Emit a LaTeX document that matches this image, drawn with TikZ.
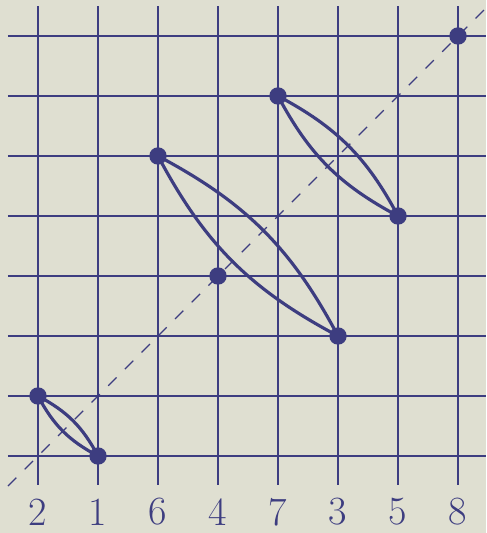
\documentclass[tikz,border=0pt]{standalone}
\usepackage{tikz}
\usetikzlibrary{positioning}
\definecolor{papel}{RGB}{223,223,209}
\definecolor{tinta}{RGB}{61,61,128}

\begin{document}
\begin{tikzpicture}[
        rejilla/.style={tinta, line width=0.95pt},
        punto/.style={circle, fill=tinta, inner sep=0pt, minimum size=0.29cm},
        lente/.style={tinta, line width=1.5pt},
        diagonal/.style={tinta, line width=0.6pt, dash pattern=on 5.6pt off 5.6pt},
        etiqueta/.style={text=tinta, inner sep=0pt, font=\fontsize{19}{19}\selectfont}]
        \fill[papel] (0.3667,-0.2833) rectangle (8.4667,8.6);
        \useasboundingbox (0.3667,-0.2833) rectangle (8.4667,8.6);
        % rejilla
        \foreach \i in {1,...,8} {
            \draw[rejilla] (\i,0.52) -- (\i,8.5);
            \draw[rejilla] (0.5,\i) -- (8.4667,\i);
        }
        \draw[diagonal] (0.5,0.5) -- (8.47,8.47);
        % puntos de la permutacion
        \foreach \v [count=\i] in {2,1,6,4,7,3,5,8} {
            \node[punto] (p\i) at (\i,\v) {};
            \node[etiqueta] (e\i) at (\i,0.07) {\v};
        }
        \draw[lente] (p1.center) to[bend left=17] (p2.center) to[bend left=17] (p1.center);
        \draw[lente] (p3.center) to[bend left=17] (p6.center) to[bend left=17] (p3.center);
        \draw[lente] (p5.center) to[bend left=17] (p7.center) to[bend left=17] (p5.center);
    \end{tikzpicture}
\end{document}
